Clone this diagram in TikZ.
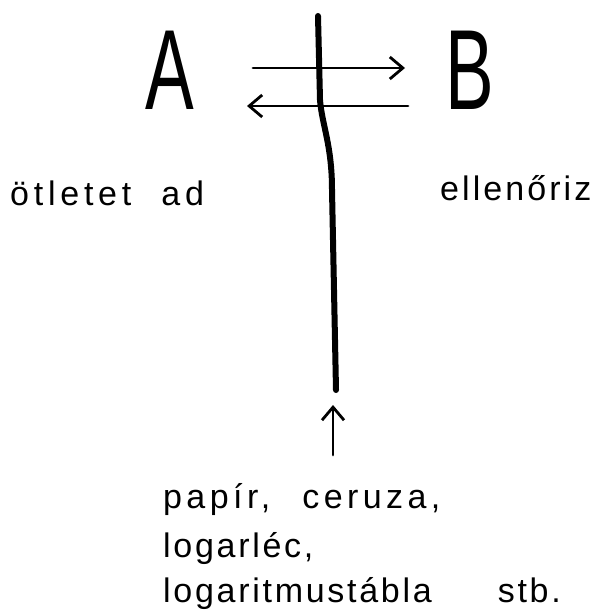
\documentclass[tikz,border=0pt]{standalone}
\usepackage{fontspec}
\setmainfont{Liberation Sans}
\usetikzlibrary{arrows.meta}
\tikzset{
  pen/.style={line width=2.8pt, line cap=round, line join=round},
  barb/.style={-{Straight Barb[length=13pt,width=22pt,line width=2.8pt]}},
  big/.style={font=\fontsize{114}{114}\selectfont, inner sep=0pt, xscale=0.64, anchor=base},
  hand/.style={font=\fontsize{34}{42}\selectfont, inner sep=0pt, anchor=base west},
}
\newcommand{\lsp}[1]{\addfontfeature{LetterSpace=#1}}
\begin{document}
\begin{tikzpicture}[x=1pt,y=-1pt]
\useasboundingbox (0,0) rectangle (601,615);
\node[big] (A) at (170,110) {A};
\node[big] (B) at (470,110) {B};
\coordinate (a1) at (253,68);
\coordinate (b1) at (405,68);
\coordinate (b2) at (408,106);
\coordinate (a2) at (247,106);
\draw[pen,barb] (a1) -- (b1);
\draw[pen,barb] (b2) -- (a2);
\coordinate (top) at (318,16);
\coordinate (bot) at (336,390);
\draw[line width=6pt, line cap=round] (top) -- (320,100) .. controls (322,125) and (332,145) .. (332,190) -- (bot);
\coordinate (s1) at (333,455);
\coordinate (s2) at (333,405);
\draw[pen,barb] (s1) -- (s2);
\node[hand] (ot) at (10,205) {\lsp{14}ötletet\hspace{30pt}ad};
\node[hand] (el) at (440,200) {\lsp{9}ellenőriz};
\node[hand] (p1) at (163,508) {\lsp{13}papír,\hspace{32pt}ceruza,};
\node[hand] (p2) at (163,557) {\lsp{8}logarléc,};
\node[hand] (p3) at (163,602) {\lsp{8}logaritmustábla\hspace{66pt}stb.};
\end{tikzpicture}
\end{document}
